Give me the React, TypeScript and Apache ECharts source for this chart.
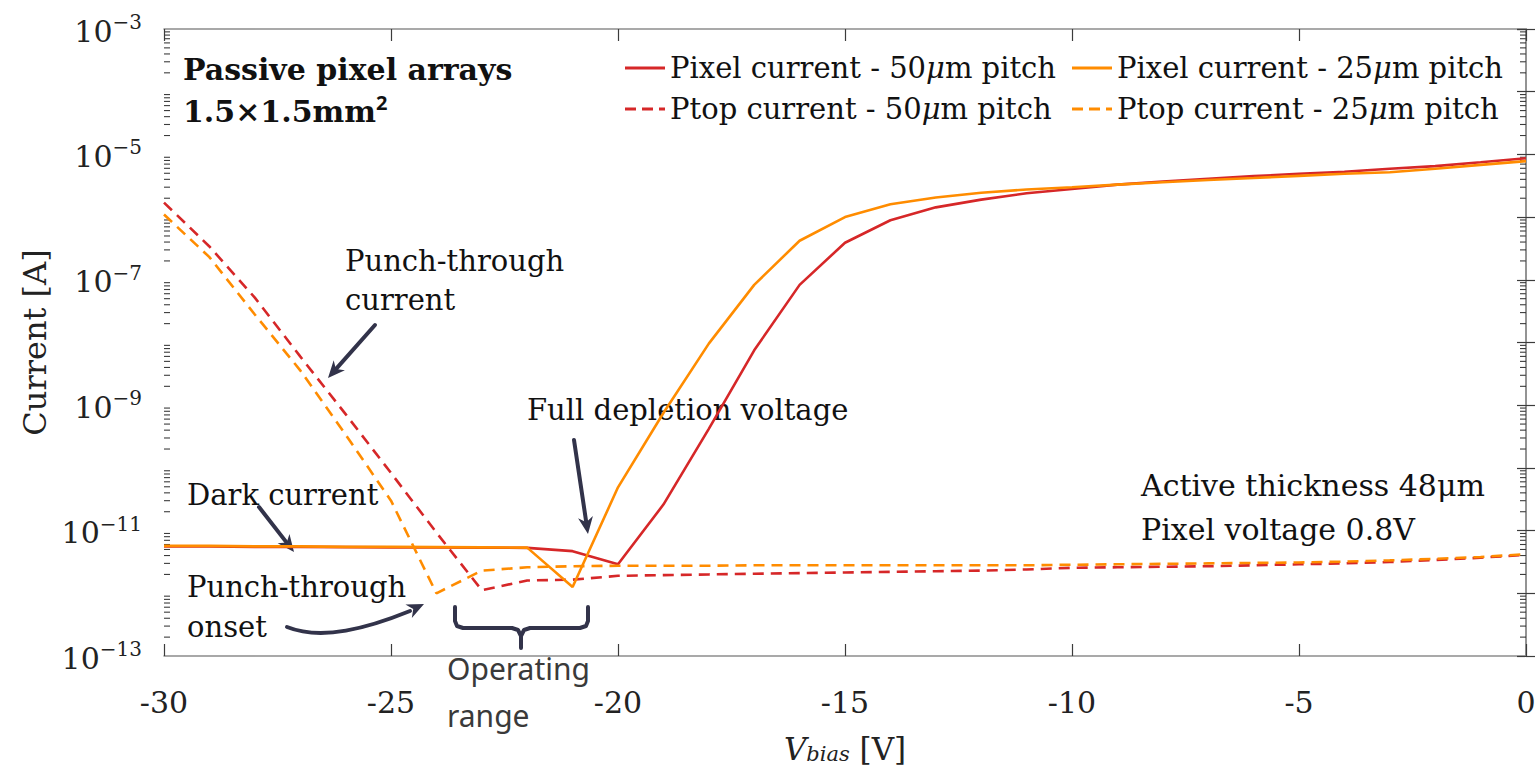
import React, { useEffect, useRef } from "react";
import * as echarts from "echarts";

// Bias voltage sweep [V]
const voltage = [
  -30, -29, -28, -27, -26, -25, -24, -23, -22, -21, -20, -19, -18, -17, -16, -15,
  -14, -13, -12, -11, -10, -9, -8, -7, -6, -5, -4, -3, -2, -1, 0,
];

// Pixel current, 50 µm pitch [A]
const pixel50 = [
  5.6e-12, 5.6e-12, 5.5e-12, 5.5e-12, 5.45e-12, 5.4e-12, 5.4e-12, 5.35e-12, 5.3e-12,
  4.7e-12, 2.9e-12, 2.6e-11, 4.2e-10, 7.5e-9, 8.3e-8, 3.9e-7, 8.9e-7, 1.43e-6, 1.9e-6,
  2.4e-6, 2.8e-6, 3.3e-6, 3.7e-6, 4.1e-6, 4.5e-6, 4.9e-6, 5.3e-6, 5.9e-6, 6.5e-6,
  7.5e-6, 8.7e-6,
];

// Pixel current, 25 µm pitch [A]
const pixel25 = [
  5.7e-12, 5.7e-12, 5.6e-12, 5.6e-12, 5.5e-12, 5.5e-12, 5.45e-12, 5.4e-12, 5.35e-12,
  1.26e-12, 4.9e-11, 7.5e-10, 9.6e-9, 8.3e-8, 4.2e-7, 1.0e-6, 1.6e-6, 2.05e-6, 2.45e-6,
  2.75e-6, 3.0e-6, 3.3e-6, 3.6e-6, 3.9e-6, 4.2e-6, 4.55e-6, 4.9e-6, 5.2e-6, 5.9e-6,
  6.8e-6, 7.8e-6,
];

// Ptop current, 50 µm pitch [A]
const ptop50 = [
  1.7e-6, 3.4e-7, 5.2e-8, 6.0e-9, 7.2e-10, 8.3e-11, 9.3e-12, 1.12e-12, 1.6e-12,
  1.65e-12, 1.9e-12, 1.95e-12, 2.0e-12, 2.05e-12, 2.1e-12, 2.15e-12, 2.2e-12, 2.25e-12,
  2.3e-12, 2.4e-12, 2.55e-12, 2.6e-12, 2.65e-12, 2.7e-12, 2.8e-12, 2.9e-12, 3.0e-12,
  3.15e-12, 3.4e-12, 3.7e-12, 4.1e-12,
];

// Ptop current, 25 µm pitch [A]
const ptop25 = [
  1.1e-6, 2.3e-7, 2.8e-8, 3.6e-9, 3.4e-10, 3.0e-11, 1.0e-12, 2.3e-12, 2.6e-12,
  2.7e-12, 2.75e-12, 2.75e-12, 2.75e-12, 2.8e-12, 2.8e-12, 2.8e-12, 2.8e-12, 2.8e-12,
  2.8e-12, 2.8e-12, 2.85e-12, 2.9e-12, 2.95e-12, 3.0e-12, 3.05e-12, 3.1e-12, 3.2e-12,
  3.35e-12, 3.55e-12, 3.8e-12, 4.2e-12,
];

const seriesNames = [
  "Pixel current - 50μm pitch",
  "Ptop current - 50μm pitch",
  "Pixel current - 25μm pitch",
  "Ptop current - 25μm pitch",
];

// Log-scale minor tick decades (exponents) and mantissas
const minorDecades = [-13, -12, -11, -10, -9, -8, -7, -6, -5, -4];
const minorMantissas = [2, 3, 4, 5, 6, 7, 8, 9];

const RED = "#d62728";
const ORANGE = "#ff8c00";
const INK = "#32334a";
const SERIF = '"DejaVu Serif", serif';
const SANS = '"Noto Sans", sans-serif';

// Legend glyphs: a solid stroke and a dashed stroke
const SOLID_ICON = "path://M0,0h40v3h-40z";
const DASHED_ICON = "path://M0,0h11v3h-11z M17,0h11v3h-11z M34,0h6v3h-6z";

const zip = (xs: number[], ys: number[]) => xs.map((x, i) => [x, ys[i]]);

function arrow(x1: number, y1: number, x2: number, y2: number, head = 17, w = 15) {
  const dx = x2 - x1;
  const dy = y2 - y1;
  const len = Math.hypot(dx, dy);
  const ux = dx / len;
  const uy = dy / len;
  const px = -uy;
  const py = ux;
  const bx = x2 - ux * head;
  const by = y2 - uy * head;
  const nx = x2 - ux * head * 0.7;
  const ny = y2 - uy * head * 0.7;
  return [
    {
      type: "line",
      shape: { x1, y1, x2: nx, y2: ny },
      style: { stroke: INK, lineWidth: 4, lineCap: "round" },
    },
    {
      type: "polygon",
      shape: {
        points: [
          [x2, y2],
          [bx + (px * w) / 2, by + (py * w) / 2],
          [nx, ny],
          [bx - (px * w) / 2, by - (py * w) / 2],
        ],
      },
      style: { fill: INK },
    },
  ];
}

function label(text: string, x: number, y: number, extra: any = {}) {
  return {
    type: "text",
    x,
    y,
    style: {
      text,
      fontFamily: SERIF,
      fontSize: 29,
      fill: "#111",
      align: "left",
      verticalAlign: "middle",
      ...extra,
    },
  };
}

export default function App() {
  const ref = useRef<HTMLDivElement>(null);

  useEffect(() => {
    if (!ref.current) return;
    const chart = echarts.init(ref.current, null, { renderer: "svg" });

    const minorData: number[][] = [];
    minorDecades.forEach((e) =>
      minorMantissas.forEach((m) => minorData.push([-30, m * Math.pow(10, e)]))
    );

    const axisLineStyle = { color: "#8c8c8c", width: 1.5 };
    const tickStyle = { color: "#3c3c3c", width: 1.2 };

    const yAxisBase = {
      type: "log",
      logBase: 10,
      min: 1e-13,
      max: 1e-3,
      interval: 1,
      splitLine: { show: false },
      axisLine: { show: true, lineStyle: axisLineStyle },
      axisTick: { show: true, inside: true, length: 9, lineStyle: tickStyle },
    };

    const legendBase = {
      orient: "vertical",
      top: 46,
      itemWidth: 40,
      itemHeight: 3,
      itemGap: 7,
      formatter: (name: string) => name.replace("μ", "{i|μ}"),
      textStyle: {
        fontFamily: SERIF,
        fontSize: 29,
        lineHeight: 34,
        color: "#111",
        rich: { i: { fontFamily: SERIF, fontSize: 29, fontStyle: "italic", color: "#111" } },
      },
    };

    const option = {
      animation: false,
      backgroundColor: "#ffffff",
      grid: { left: 164, top: 29, width: 1362, height: 640, containLabel: false },
      legend: [
        {
          ...legendBase,
          left: 620,
          data: [
            { name: seriesNames[0], icon: SOLID_ICON },
            { name: seriesNames[1], icon: DASHED_ICON },
          ],
        },
        {
          ...legendBase,
          left: 1067,
          data: [
            { name: seriesNames[2], icon: SOLID_ICON },
            { name: seriesNames[3], icon: DASHED_ICON },
          ],
        },
      ],
      xAxis: [
        {
          type: "value",
          min: -30,
          max: 0,
          interval: 5,
          position: "bottom",
          splitLine: { show: false },
          axisLine: { show: true, onZero: false, lineStyle: axisLineStyle },
          axisTick: { show: true, inside: true, length: 12, lineStyle: tickStyle },
          axisLabel: { fontFamily: SERIF, fontSize: 30, color: "#222", margin: 31 },
          name: "{v|V}{s|bias}{n| [V]}",
          nameLocation: "middle",
          nameGap: 72,
          nameTextStyle: {
            rich: {
              v: { fontFamily: SERIF, fontSize: 31, fontStyle: "italic", color: "#222", verticalAlign: "bottom", lineHeight: 36 },
              s: { fontFamily: SERIF, fontSize: 21, fontStyle: "italic", color: "#222", verticalAlign: "bottom", lineHeight: 26 },
              n: { fontFamily: SERIF, fontSize: 31, color: "#222", verticalAlign: "bottom", lineHeight: 36 },
            },
          },
        },
        {
          type: "value",
          min: -30,
          max: 0,
          interval: 5,
          position: "top",
          splitLine: { show: false },
          axisLine: { show: true, onZero: false, lineStyle: axisLineStyle },
          axisTick: { show: true, inside: true, length: 12, lineStyle: tickStyle },
          axisLabel: { show: false },
        },
      ],
      yAxis: [
        {
          ...yAxisBase,
          position: "left",
          name: "Current [A]",
          nameLocation: "middle",
          nameGap: 105,
          nameRotate: 90,
          nameTextStyle: { fontFamily: SERIF, fontSize: 32, color: "#222" },
          axisLabel: {
            margin: 22,
            formatter: (v: number) => {
              const e = Math.round(Math.log10(v));
              if (Math.abs(e) % 2 === 0) return "";
              return `{b|10}{s|−${-e}}`;
            },
            rich: {
              b: { fontFamily: SERIF, fontSize: 30, color: "#222", verticalAlign: "bottom", lineHeight: 34 },
              s: { fontFamily: SERIF, fontSize: 20, color: "#222", verticalAlign: "top", lineHeight: 34, padding: [0, 0, 14, 0] },
            },
          },
        },
        { ...yAxisBase, position: "right", axisLabel: { show: false } },
      ],
      series: [
        {
          name: seriesNames[0],
          type: "line",
          data: zip(voltage, pixel50),
          symbol: "none",
          lineStyle: { color: RED, width: 2.6 },
          itemStyle: { color: RED },
          z: 3,
        },
        {
          name: seriesNames[1],
          type: "line",
          data: zip(voltage, ptop50),
          symbol: "none",
          lineStyle: { color: RED, width: 2.6, type: [11, 7] },
          itemStyle: { color: RED },
          z: 3,
        },
        {
          name: seriesNames[2],
          type: "line",
          data: zip(voltage, pixel25),
          symbol: "none",
          lineStyle: { color: ORANGE, width: 2.6 },
          itemStyle: { color: ORANGE },
          z: 4,
        },
        {
          name: seriesNames[3],
          type: "line",
          data: zip(voltage, ptop25),
          symbol: "none",
          lineStyle: { color: ORANGE, width: 2.6, type: [11, 7] },
          itemStyle: { color: ORANGE },
          z: 4,
        },
        {
          // logarithmic minor ticks on the left and right frame
          type: "custom",
          silent: true,
          clip: false,
          data: minorData,
          renderItem: (_params: any, api: any) => {
            const v = api.value(1);
            const l = api.coord([-30, v]);
            const r = api.coord([0, v]);
            const st = { stroke: "#3c3c3c", lineWidth: 1.1 };
            return {
              type: "group",
              children: [
                { type: "line", shape: { x1: l[0], y1: l[1], x2: l[0] + 6, y2: l[1] }, style: st },
                { type: "line", shape: { x1: r[0] - 6, y1: r[1], x2: r[0], y2: r[1] }, style: st },
              ],
            };
          },
          z: 2,
        },
      ],
      graphic: [
        label("Passive pixel arrays", 183, 69, { fontWeight: "bold", fontSize: 30 }),
        {
          type: "text",
          x: 183,
          y: 109,
          style: {
            text: "{b|1.5×1.5mm}{s|2}",
            align: "left",
            verticalAlign: "middle",
            rich: {
              b: { fontFamily: SERIF, fontSize: 30, fontWeight: "bold", fill: "#111", verticalAlign: "bottom", lineHeight: 34 },
              s: { fontFamily: SANS, fontSize: 20, fontWeight: "bold", fill: "#111", verticalAlign: "top", lineHeight: 34, padding: [0, 0, 12, 0] },
            },
          },
        },
        label("Punch-through", 345, 261),
        label("current", 345, 300),
        ...arrow(375, 325, 328, 378),
        label("Dark current", 187, 495),
        ...arrow(259, 507, 294, 552),
        label("Punch-through", 187, 587),
        label("onset", 187, 627),
        {
          type: "bezierCurve",
          shape: { x1: 287, y1: 627, cpx1: 322, cpy1: 641, cpx2: 368, cpy2: 628, x2: 410, y2: 611 },
          style: { stroke: INK, lineWidth: 4, fill: "none", lineCap: "round" },
        },
        ...arrow(405, 613, 424, 604).slice(1),
        label("Full depletion voltage", 527, 410),
        ...arrow(574, 440, 588, 534),
        {
          // bracket spanning the operating range
          type: "polyline",
          shape: {
            points: [
              [455, 607], [455, 621], [457, 626], [463, 628], [512, 628], [518, 630],
              [521, 636], [521, 648], [521, 636], [524, 630], [530, 628], [580, 628],
              [586, 626], [588, 621], [588, 607],
            ],
          },
          style: { stroke: INK, lineWidth: 4, fill: "none", lineJoin: "round", lineCap: "round" },
        },
        label("Operating", 447, 668, { fontFamily: SANS, fontSize: 30, fill: "#3a3a3a" }),
        label("range", 447, 715, { fontFamily: SANS, fontSize: 30, fill: "#3a3a3a" }),
        label("Active thickness 48μm", 1141, 485, { fontSize: 30 }),
        label("Pixel voltage 0.8V", 1141, 529, { fontSize: 30 }),
      ],
    };

    chart.setOption(option as any);
    return () => chart.dispose();
  }, []);

  return (
    <div
      ref={ref}
      style={{ position: "absolute", left: 0, top: 0, width: 1539, height: 769, background: "#fff" }}
    />
  );
}
